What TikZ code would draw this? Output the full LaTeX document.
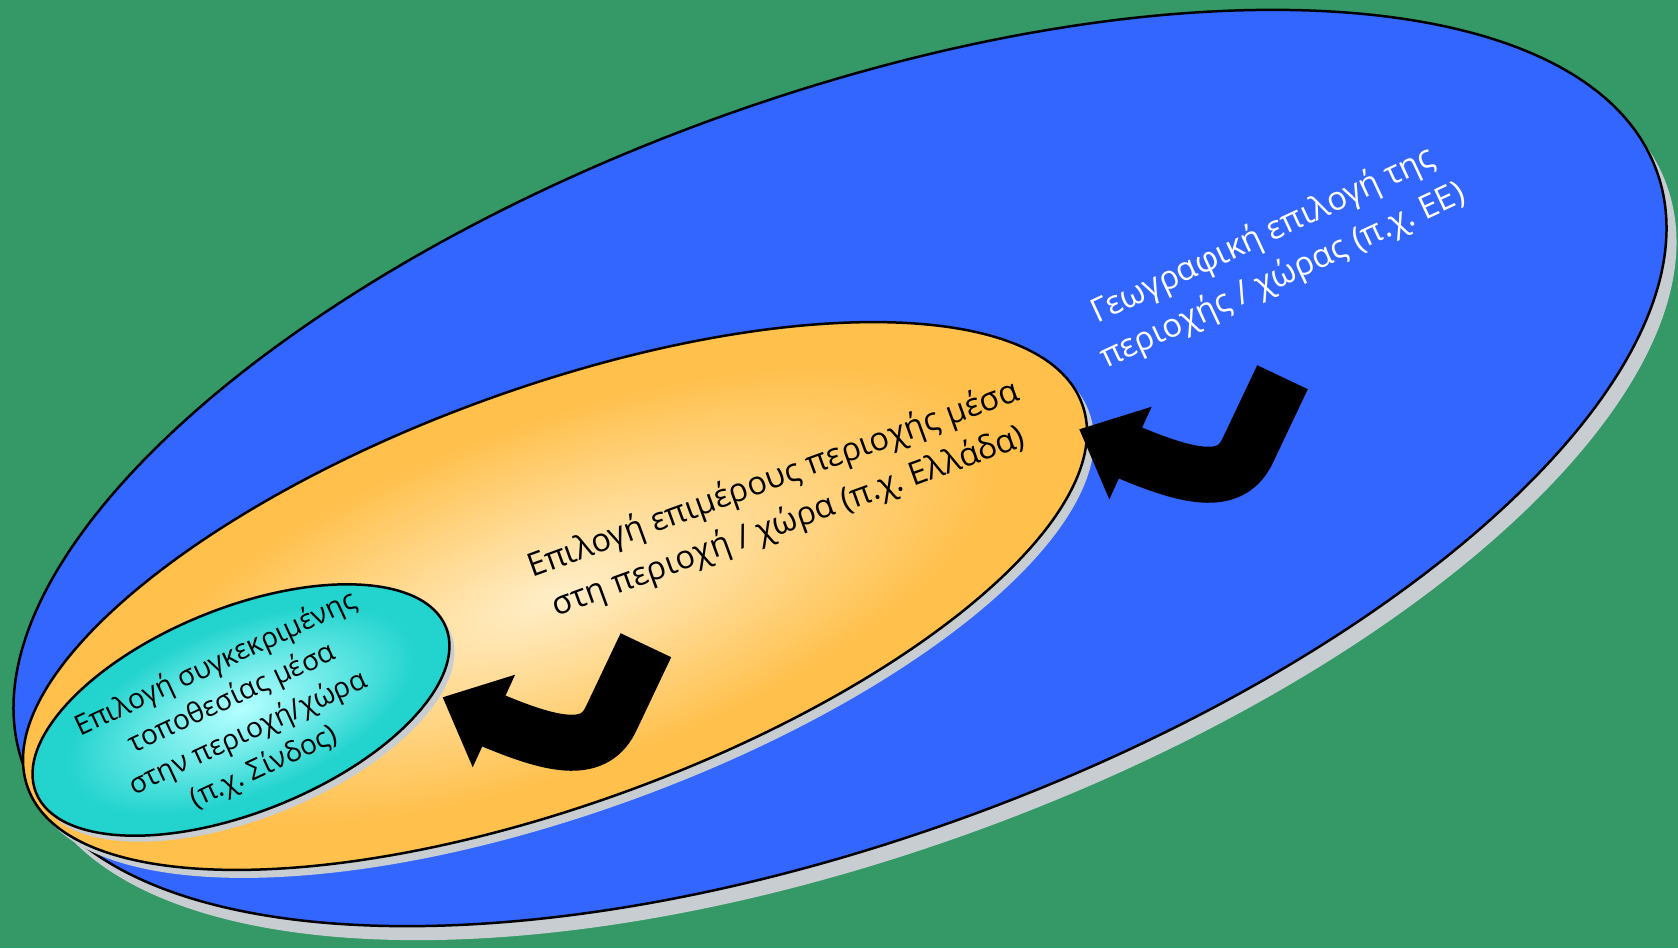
\documentclass[tikz,border=0pt]{standalone}
\usepackage{fontspec}
\setmainfont{Open Sans}
\frenchspacing
\definecolor{bggreen}{RGB}{52,153,102}
\definecolor{bigblue}{RGB}{51,102,255}
\definecolor{shadowgray}{RGB}{200,205,210}
\definecolor{orangeout}{RGB}{255,192,76}
\definecolor{orangein}{RGB}{255,238,200}
\definecolor{cyanout}{RGB}{34,211,206}
\definecolor{cyanin}{RGB}{180,255,255}
\pgfdeclareradialshading{orangeshade}{\pgfpoint{0bp}{0bp}}{color(0bp)=(orangein); color(21bp)=(orangeout); color(25bp)=(orangeout); color(50bp)=(orangeout)}
\pgfdeclareradialshading{cyanshade}{\pgfpoint{0bp}{0bp}}{color(0bp)=(cyanin); color(21bp)=(cyanout); color(25bp)=(cyanout); color(50bp)=(cyanout)}
\tikzset{
  outline/.style={draw=black,line width=2.5pt},
  shadowfill/.style={fill=shadowgray},
  lbl/.style={align=center,inner sep=0pt},
  pics/uturn/.style={code={
    \fill (0,0) -- (72.4,-22.6) -- (30,70) -- cycle;
    \draw[line width=56pt] (203.2,-52.1) -- (168.7,20.7) .. controls (152.7,55.7) and (115.7,50.7) .. (51.2,23.7) -- (40,19);
  }}
}
\begin{document}
\begin{tikzpicture}[x=1pt,y=-1pt]
\path[use as bounding box,fill=bggreen] (0,0) rectangle (1678,948);
\coordinate (cb) at (840,468);
\coordinate (co) at (555,596);
\coordinate (cc) at (241,710);
% blue region
\begin{scope}[shift={(850,482)},rotate=20]
  \fill[shadowfill] (0,0) ellipse (869 and 371);
\end{scope}
\begin{scope}[shift={(cb)},rotate=20]
  \fill[bigblue] (0,0) ellipse (869 and 371);
  \draw[outline] (0,0) ellipse (869 and 371);
\end{scope}
% orange region
\begin{scope}[shift={(562,604)},rotate=20]
  \fill[shadowfill] (0,0) ellipse (561 and 208);
\end{scope}
\begin{scope}[transform canvas={shift={(555,596)},rotate=20}]
  \shade[shading=orangeshade] (0,0) ellipse (561 and 208);
  \draw[outline] (0,0) ellipse (561 and 208);
\end{scope}
% cyan region
\begin{scope}[shift={(246,716)},rotate=22]
  \fill[shadowfill] (0,0) ellipse (221 and 102);
\end{scope}
\begin{scope}[transform canvas={shift={(241,710)},rotate=22}]
  \shade[shading=cyanshade] (0,0) ellipse (221 and 102);
  \draw[outline] (0,0) ellipse (221 and 102);
\end{scope}
% arrows
\pic at (1079.3,429.3) {uturn};
\pic at (442.7,697.3) {uturn};
% labels
\node[lbl,text=white,rotate=25,font=\fontsize{32.8}{45}\selectfont] (tblue) at (1273,256) {Γεωγραφική επιλογή της\\περιοχής / χώρας (π.χ. ΕΕ)};
\node[lbl,text=black,rotate=20,font=\fontsize{32.4}{45}\selectfont] (torange) at (781,501) {Επιλογή επιμέρους περιοχής μέσα\\στη περιοχή / χώρα (π.χ. Ελλάδα)};
\node[lbl,text=black,rotate=25,font=\fontsize{28}{38}\selectfont] (tcyan) at (240,716) {Επιλογή συγκεκριμένης\\τοποθεσίας μέσα\\στην περιοχή/χώρα\\(π.χ. Σίνδος)};
\end{tikzpicture}
\end{document}
